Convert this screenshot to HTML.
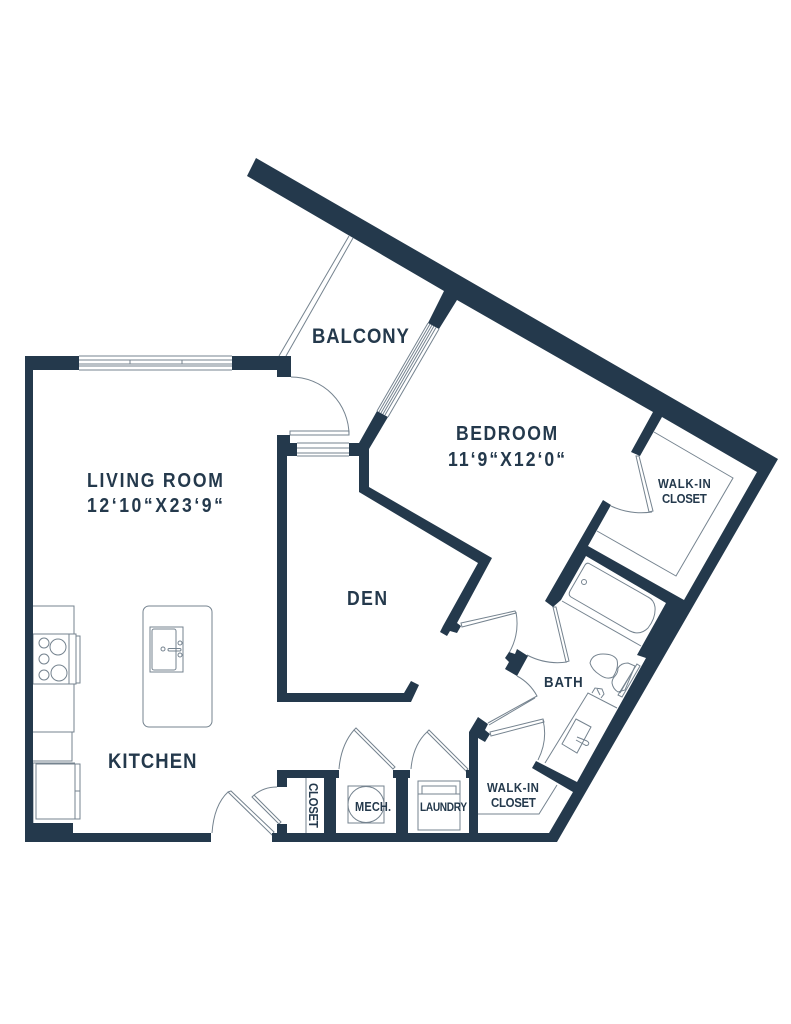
<!DOCTYPE html>
<html><head><meta charset="utf-8"><style>
html,body{margin:0;padding:0;background:#fff}
svg{display:block}
text{font-family:"Liberation Sans",sans-serif;font-weight:700;fill:#24394c}
.w{fill:#24394c;stroke:none}
.t{fill:none;stroke:#75838f;stroke-width:1}
</style></head><body>
<svg width="791" height="1024" viewBox="0 0 791 1024" xmlns="http://www.w3.org/2000/svg">
<!-- thin details -->
<g class="t">
<!-- balcony rail -->
<path d="M279 356L349 236M286 356L353 238"/>
<!-- balcony slider -->
<path d="M428 323L377 411M430 324L379 412M432 325L381 413M434 326L383 414M436 327.500L385 415M439 329L388 417"/>
<!-- entry door balcony -->
<path d="M291 377A58 58 0 0 1 349 435"/>
<rect x="290" y="431" width="59" height="4"/>
<!-- den window -->
<path d="M297 443H349M297 448H349M297 453H349M297 456H349"/>
<!-- living window -->
<path d="M79 356H232M79 360H232M79 364H232M79 366H232M79 370H232M130 360V364M182 360V364"/>
<!-- walk-in shelf -->
<path d="M654 432L733 478L676 576L597 531"/>
<!-- walk-in door -->
<path d="M636 456L649 512L653 511L639 456ZM611 506Q630 515 652 512"/>
<!-- tub -->
<path d="M562 601L641 646"/>
<path d="M590 564Q587 562 585 565L570 591Q568 595 571 597L630 631Q640 636 648 628Q656 618 655 607Q654 600 648 597Z"/>
<circle cx="584" cy="582" r="2.500"/>
<!-- bath door -->
<path d="M553 607L566 662L569 661L556 607ZM527 655Q546 665 567 662"/>
<!-- den door -->
<path d="M461 623L515 611L516 613L462 627ZM516 612Q520 634 509 653"/>
<!-- lower door -->
<path d="M517 676Q530 683 537 696L488 723M535 698L489 725"/>
<!-- closet door -->
<path d="M490 732L543 719L544 722L491 736ZM543 720Q548 740 538 760"/>
<!-- toilet -->
<path d="M590 663Q592 654 603 654Q614 654 617 660Q619 668 613 677Q607 680 600 675Q592 670 590 663Z"/>
<path d="M618 668Q621 663 628 663L635 666L625 690L618 692Q613 689 612 683Q612 679 615 676Q618 673 618 668Z"/>
<path d="M637 664L640 666L622 697L618 695ZM635 667L620 693"/>
<!-- vanity -->
<path d="M617 708L588 693L545 763"/>
<path d="M592 693L595 688L602 689L604 694L601 698M597 689L600 695"/>
<path d="M576 719L591 727L577 753L562 744Z"/>
<path d="M577 737L587 741Q590 743 588 745Q586 746 585 745L576 740"/>
<!-- closet shelf low -->
<path d="M478 814H539L557 785"/>
<!-- closet vertical -->
<path d="M306 778V833"/>
<!-- kitchen entry door -->
<path d="M212 833Q214 805 228 792L272 835L274 832L231 791L228 792"/>
<!-- closet door -->
<path d="M277 787Q262 787 252 797L279 824L281 822L254 795"/>
<!-- mech door -->
<path d="M339 769Q341 745 354 730L393 769L395 767L356 728L354 730"/>
<rect x="348" y="786" width="36" height="37"/>
<circle cx="366" cy="804.500" r="18"/>
<!-- laundry door -->
<path d="M411 769Q413 745 427 732L466 771L468 769L429 730L427 732"/>
<rect x="418" y="781" width="42" height="49"/>
<path d="M418 794H460M422 794V786H456V794"/>
<!-- kitchen -->
<path d="M33 606H74V634M74 684V732H33M72 732V761H33"/>
<rect x="33" y="634" width="36" height="50"/>
<rect x="69" y="634" width="7" height="50"/>
<rect x="76" y="636" width="4" height="47"/>
<circle cx="44" cy="643" r="5"/><circle cx="58" cy="647" r="8"/>
<circle cx="44" cy="659" r="5"/><circle cx="44" cy="675" r="5"/><circle cx="59" cy="673" r="8"/>
<path d="M33 763H75M33 823V763"/>
<rect x="36" y="764" width="39" height="55"/>
<rect x="75" y="764" width="5" height="55"/>
<path d="M75 791H80"/>
<rect x="143" y="606" width="69" height="121" rx="6"/>
<rect x="150" y="627" width="33" height="45"/>
<rect x="152" y="629" width="24" height="41" rx="2"/>
<circle cx="163" cy="649" r="2"/>
<rect x="168" y="648.500" width="13" height="2.500" rx="1.200"/>
<circle cx="180" cy="643" r="2"/><circle cx="180" cy="655" r="2"/>
</g>
<!-- walls -->
<g class="w">
<polygon points="256,158 778,459 557,842 272,842 272,833 277,833 277,824 287,824 287,833 324,833 324,778 287,778 287,787 277,787 277,770 339,770 339,778 336,778 336,833 396,833 396,778 393,778 393,770 410,770 410,778 408,778 408,833 469,833 469,778 466,778 466,770 469,770 469,732 478,717 488,724 485,730 490,734 485,742 478,738 478,833 549,833 573,792 532,768 536,761 577,782 646,658 637,655 666,603 586,556 561,600 553,607 545,601 603,500 611,505 588,546 684,600 757,472 662,417 640,456 631,452 653,412 457,300 439,329 428,323 444,291 247,176"/>
<polygon points="25,356 79,356 79,370 33,370 33,823 73,823 73,833 211,833 211,842 25,842"/>
<polygon points="232,356 291,356 291,377 277,377 277,370 232,370"/>
<polygon points="277,435 290,435 290,443 297,443 297,456 287,456 287,693 404,693 411,681 419,685 411,702 277,702"/>
<polygon points="349,443 359,443 377,411 388,417 369,449 369,487 492,558 457,623 461,626 457,633 450,631 447,636 440,632 443,626 478,563 359,492 359,456 349,456"/>
<polygon points="517,649 528,656 517,676 505,669 509,662 505,658 509,652 515,654"/>
</g>
<!-- labels: narrowed glyphs with wide tracking -->
<text transform="translate(312 343) scale(.88 1)" font-size="21" textLength="110" lengthAdjust="spacing">BALCONY</text>
<text transform="translate(456 440) scale(.88 1)" font-size="20" textLength="115" lengthAdjust="spacing">BEDROOM</text>
<text transform="translate(448 466) scale(.88 1)" font-size="20" textLength="133" lengthAdjust="spacing">11‘9“X12‘0“</text>
<text transform="translate(87 487) scale(.88 1)" font-size="20" textLength="154.500" lengthAdjust="spacing">LIVING ROOM</text>
<text transform="translate(87 512) scale(.88 1)" font-size="20" textLength="154.500" lengthAdjust="spacing">12‘10“X23‘9“</text>
<text transform="translate(347 605) scale(.88 1)" font-size="20" textLength="45.500" lengthAdjust="spacing">DEN</text>
<text transform="translate(108 768) scale(.88 1)" font-size="21" textLength="100.500" lengthAdjust="spacing">KITCHEN</text>
<text transform="translate(544 687) scale(.88 1)" font-size="15" textLength="44" lengthAdjust="spacing">BATH</text>
<text transform="translate(658 488) scale(.88 1)" font-size="13" textLength="60" lengthAdjust="spacing">WALK-IN</text>
<text transform="translate(662 503) scale(.88 1)" font-size="13" textLength="51" lengthAdjust="spacing">CLOSET</text>
<text transform="translate(487 792) scale(.88 1)" font-size="13" textLength="59" lengthAdjust="spacing">WALK-IN</text>
<text transform="translate(491 807) scale(.88 1)" font-size="13" textLength="51" lengthAdjust="spacing">CLOSET</text>
<text transform="translate(355 811) scale(.88 1)" font-size="12.500" textLength="41" lengthAdjust="spacing">MECH.</text>
<text transform="translate(420 811) scale(.88 1)" font-size="11.500" textLength="53.500" lengthAdjust="spacing">LAUNDRY</text>
<text transform="translate(309 783) rotate(90) scale(.88 1)" font-size="13" textLength="51" lengthAdjust="spacing">CLOSET</text>
</svg>
</body></html>
